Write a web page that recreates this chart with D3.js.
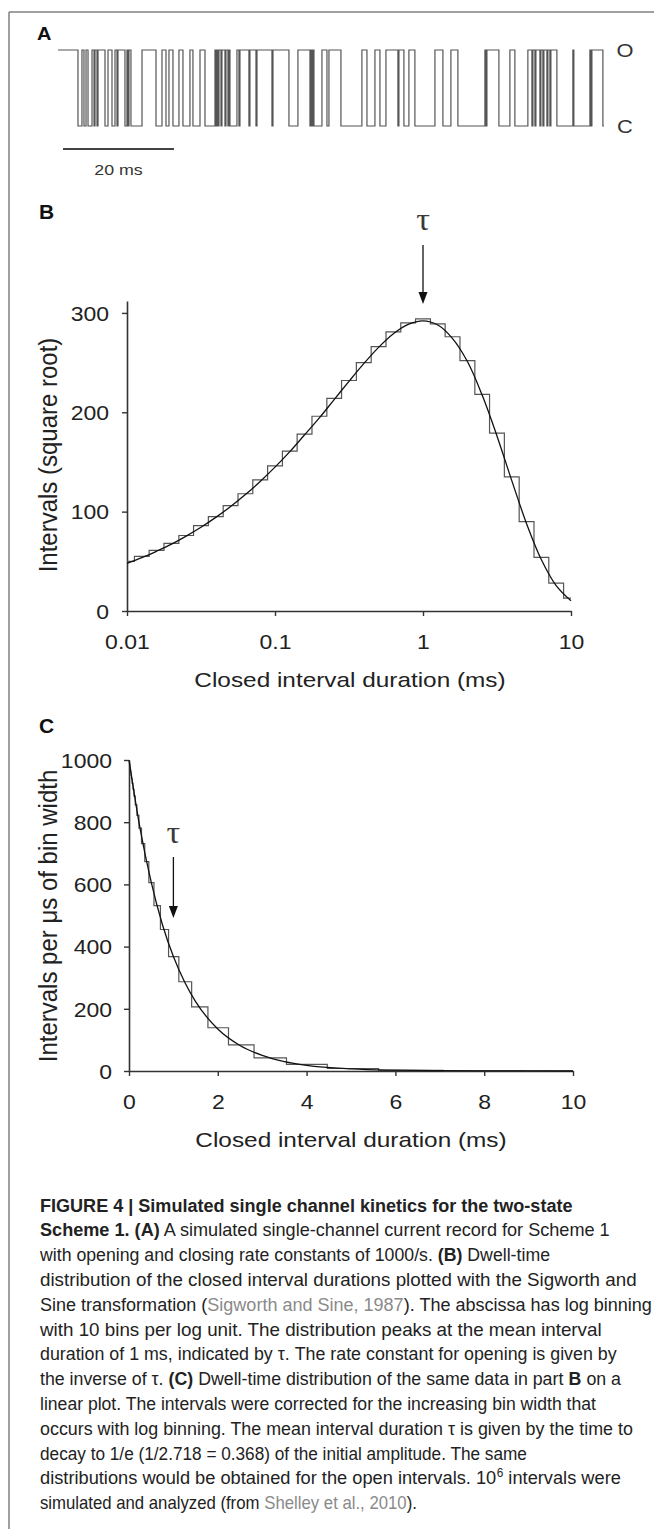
<!DOCTYPE html>
<html><head><meta charset="utf-8">
<script src="https://cdn.jsdelivr.net/npm/d3@7"></script>
<style>
html,body{margin:0;padding:0;background:#fff;}
svg{display:block;}
</style></head>
<body><svg id="fig" width="654" height="1529"></svg>
<script>
// ---------------- DATA ----------------
// Panel A: simulated single-channel record (times in ms)
const traceDuration = 98.4;
const closedStart = [3.60,4.68,5.41,6.49,7.03,8.47,9.73,10.63,12.07,12.61,13.15,17.66,19.46,20.72,22.52,24.32,26.49,28.47,28.83,29.37,30.09,30.63,30.99,32.61,34.41,35.68,38.56,41.62,45.41,45.77,46.13,48.47,50.99,55.68,58.02,61.26,62.34,64.32,69.37,72.07,77.12,79.46,82.34,85.41,85.95,86.85,87.39,88.11,88.65,89.91,92.97,96.04,98.20];
const closedEnd   = [4.32,5.05,6.13,6.67,7.21,9.01,10.27,10.81,12.43,12.79,15.14,18.74,20.00,21.80,23.78,25.59,28.29,28.65,29.01,29.55,30.27,30.81,32.25,32.79,34.59,35.86,38.74,43.24,45.59,45.95,47.57,48.83,54.77,57.12,59.10,61.44,63.24,67.93,70.81,76.94,77.30,81.44,84.68,85.59,86.13,87.03,87.57,88.29,88.83,92.79,95.86,96.22,98.40];
const stateLabels = ["O", "C"];
const scaleBarMs = 20;
const scaleBarLabel = "20 ms";

// Bin centres (ms), 10 bins per log unit
const binCenters = [0.01,0.0126,0.0158,0.02,0.0251,0.0316,0.0398,0.0501,0.0631,0.0794,0.1,0.126,0.158,0.2,0.251,0.316,0.398,0.501,0.631,0.794,1,1.26,1.58,2,2.51,3.16,3.98,5.01,6.31,7.94,10];

// Panel B: square-root intervals (Sigworth & Sine)
const histB = [50,55,61,68,76,86,95,106,118,132,146,161,178,196,214,232,250,266,281,290,294,289,276,252,218,179,135,90,54,28,13];
const fitB  = [48,53.7,60.1,67.3,75.4,84.3,94.2,105.1,117.2,130.4,144.8,160.4,177.1,194.6,212.8,231.1,248.9,265.3,279,288.4,292,287.8,274.4,250.8,217.3,176.2,131.2,87.9,51.6,25.6,10.3];
const ticksBX = [0.01, 0.1, 1, 10];
const tickLabelsBX = ["0.01", "0.1", "1", "10"];
const ticksBY = [0, 100, 200, 300];
const tickLabelsBY = ["0", "100", "200", "300"];
const tauB = 1;

// Panel C: intervals per microsecond of bin width (linear)
const histC = [990,988,985,981,976,970,962,952,940,925,906,884,856,822,781,731,673,606,532,455,368,287,206,139,84,42,21,8,2,0.4,0.05];
const fitCx = [0,0.25,0.5,0.75,1,1.25,1.5,2,2.5,3,3.5,4,5,6,7,8,9,10];
const fitCy = [1000,779,607,472,368,287,223,135,82,50,30,18,6.7,2.5,0.9,0.3,0.1,0.05];
const ticksCX = [0, 2, 4, 6, 8, 10];
const tickLabelsCX = ["0", "2", "4", "6", "8", "10"];
const ticksCY = [0, 200, 400, 600, 800, 1000];
const tickLabelsCY = ["0", "200", "400", "600", "800", "1000"];
const tauC = 1;

const panelLabels = ["A", "B", "C"];
const xTitle = "Closed interval duration (ms)";
const yTitleB = "Intervals (square root)";
const yTitleC = "Intervals per \u03bcs of bin width";
const tauSymbol = "\u03c4";

const captionLines = [
  [{t:"FIGURE 4 | Simulated single channel kinetics for the two-state", s:"b"}],
  [{t:"Scheme 1. (A)", s:"b"},{t:" A simulated single-channel current record for Scheme 1"}],
  [{t:"with opening and closing rate constants of 1000/s. "},{t:"(B)", s:"b"},{t:" Dwell-time"}],
  [{t:"distribution of the closed interval durations plotted with the Sigworth and"}],
  [{t:"Sine transformation ("},{t:"Sigworth and Sine, 1987", s:"l"},{t:"). The abscissa has log binning"}],
  [{t:"with 10 bins per log unit. The distribution peaks at the mean interval"}],
  [{t:"duration of 1 ms, indicated by \u03c4. The rate constant for opening is given by"}],
  [{t:"the inverse of \u03c4. "},{t:"(C)", s:"b"},{t:" Dwell-time distribution of the same data in part "},{t:"B", s:"b"},{t:" on a"}],
  [{t:"linear plot. The intervals were corrected for the increasing bin width that"}],
  [{t:"occurs with log binning. The mean interval duration \u03c4 is given by the time to"}],
  [{t:"decay to 1/e (1/2.718 = 0.368) of the initial amplitude. The same"}],
  [{t:"distributions would be obtained for the open intervals. 10"},{t:"6", s:"sup"},{t:" intervals were"}],
  [{t:"simulated and analyzed (from "},{t:"Shelley et al., 2010", s:"l"},{t:")."}]
];
const captionWidths = [533,570,510,597,612,562,577,581,556,593,487,581,377];

// ---------------- DRAWING ----------------
const FONT = "Arial, 'Liberation Sans', Helvetica, sans-serif";
const SERIF = "'Liberation Serif', 'Times New Roman', serif";
const SX = 1.15; // horizontal stretch of the figure art
const svg = d3.select("#fig");

function txt(parent, x, y, s, o = {}) {
  return parent.append("text")
    .attr("transform", `translate(${x},${y})` + (o.rot ? ` rotate(${o.rot})` : "") + ` scale(${o.sx || 1},${o.sy || 1})`)
    .attr("font-family", o.family || FONT)
    .attr("font-size", o.size || 16)
    .attr("font-weight", o.weight || "normal")
    .attr("text-anchor", o.anchor || "start")
    .attr("fill", o.fill || "#222")
    .text(s);
}

// frame
svg.append("line").attr("x1", 9).attr("x2", 654).attr("y1", 12).attr("y2", 12).attr("stroke", "#808080").attr("stroke-width", 1.5);
svg.append("line").attr("x1", 9).attr("x2", 9).attr("y1", 12).attr("y2", 1529).attr("stroke", "#808080").attr("stroke-width", 1.5);

// ---- Panel A ----
const xA = d3.scaleLinear().domain([0, traceDuration]).range([58, 604]);
const yA = d3.scalePoint().domain(stateLabels).range([50, 126]);
const tracePts = [{t: 0, s: "O"}];
closedStart.forEach((s, i) => {
  tracePts.push({t: s, s: "C"});
  tracePts.push({t: closedEnd[i], s: closedEnd[i] >= traceDuration ? "C" : "O"});
});
svg.append("path")
  .attr("d", d3.line().x(d => xA(d.t)).y(d => yA(d.s)).curve(d3.curveStepAfter)(tracePts))
  .attr("fill", "none").attr("stroke", "#555").attr("stroke-width", 1.2);
txt(svg, 37, 40, panelLabels[0], {size: 19, weight: "bold", sx: 1.05, fill: "#111"});
stateLabels.forEach(s => txt(svg, 625, yA(s) + 7, s, {size: 19, anchor: "middle", sx: SX, fill: "#333"}));
svg.append("line").attr("x1", xA(0) + 5).attr("x2", xA(scaleBarMs) + 5).attr("y1", 149).attr("y2", 149)
  .attr("stroke", "#444").attr("stroke-width", 2);
txt(svg, (xA(0) + xA(scaleBarMs)) / 2 + 5, 175, scaleBarLabel, {size: 15.5, anchor: "middle", sx: SX, fill: "#333"});

// axis helper
function styleAxes(gx, gy, yLabelDx) {
  [gx, gy].forEach(g => {
    g.attr("font-family", FONT).attr("font-size", 20).style("color", "#222");
    g.select(".domain").attr("stroke", "#333").attr("stroke-width", 1.6);
    g.selectAll(".tick line").attr("stroke", "#333").attr("stroke-width", 1.4);
  });
  gy.selectAll(".tick text").attr("x", null).attr("dy", "0.36em")
    .attr("transform", `translate(${yLabelDx},0) scale(${SX},1)`);
  gx.selectAll(".tick text").attr("y", null).attr("dy", null)
    .attr("transform", `translate(0,38) scale(${SX},1)`);
}
function stepPath(xs, ys, xScale, yScale, leftEdge, rightEdge) {
  const pts = [];
  xs.forEach((c, i) => {
    const l = i === 0 ? leftEdge : Math.sqrt(xs[i - 1] * c);
    const r = i === xs.length - 1 ? rightEdge : Math.min(rightEdge, Math.sqrt(c * xs[i + 1]));
    pts.push([xScale(l), yScale(ys[i])], [xScale(r), yScale(ys[i])]);
  });
  return d3.line()(pts);
}
function arrow(g, x, y0, y1) {
  g.append("line").attr("x1", x).attr("x2", x).attr("y1", y0).attr("y2", y1 - 8).attr("stroke", "#111").attr("stroke-width", 1.3);
  g.append("path").attr("d", `M${x - 4.5},${y1 - 12}L${x + 4.5},${y1 - 12}L${x},${y1}Z`).attr("fill", "#111");
}

// ---- Panel B ----
const xB = d3.scaleLog().domain([0.01, 10]).range([127, 571]);
const yB = d3.scaleLinear().domain([0, 312]).range([611, 301]);
const gB = svg.append("g");
const gBx = gB.append("g").attr("transform", `translate(0,${yB(0)})`)
  .call(d3.axisBottom(xB).tickValues(ticksBX).tickSize(5).tickSizeOuter(0).tickFormat((d, i) => tickLabelsBX[i]));
const gBy = gB.append("g").attr("transform", `translate(${xB(0.01)},0)`)
  .call(d3.axisLeft(yB).tickValues(ticksBY).tickSize(5).tickSizeOuter(0).tickFormat((d, i) => tickLabelsBY[i]));
styleAxes(gBx, gBy, -18);
gB.append("path").attr("d", stepPath(binCenters, histB, xB, yB, 0.01, 10))
  .attr("fill", "none").attr("stroke", "#555").attr("stroke-width", 1.2);
gB.append("path").attr("d", d3.line().x(d => xB(d[0])).y(d => yB(d[1])).curve(d3.curveCatmullRom)(binCenters.map((c, i) => [c, fitB[i]])))
  .attr("fill", "none").attr("stroke", "#111").attr("stroke-width", 1.3);
txt(gB, 39, 219, panelLabels[1], {size: 20, weight: "bold", sx: 1.05, fill: "#111"});
txt(gB, xB(tauB), 230, tauSymbol, {size: 31, anchor: "middle", family: SERIF, sx: 1.1, fill: "#3a3a3a"});
arrow(gB, xB(tauB), 245, yB(d3.max(histB)) - 15);
txt(gB, 350, 687, xTitle, {size: 21, anchor: "middle", sx: 1.16});
txt(gB, 57, 455, yTitleB, {size: 24, anchor: "middle", rot: -90, sy: 1.05});

// ---- Panel C ----
const xC = d3.scaleLinear().domain([0, 10]).range([129, 573]);
const yC = d3.scaleLinear().domain([0, 1000]).range([1071, 760]);
const gC = svg.append("g");
const gCx = gC.append("g").attr("transform", `translate(0,${yC(0)})`)
  .call(d3.axisBottom(xC).tickValues(ticksCX).tickSize(5).tickSizeOuter(0).tickFormat((d, i) => tickLabelsCX[i]));
const gCy = gC.append("g").attr("transform", `translate(${xC(0)},0)`)
  .call(d3.axisLeft(yC).tickValues(ticksCY).tickSize(5).tickSizeOuter(0).tickFormat((d, i) => tickLabelsCY[i]));
styleAxes(gCx, gCy, -17);
gC.append("path").attr("d", stepPath(binCenters, histC, xC, yC, 0, 10))
  .attr("fill", "none").attr("stroke", "#555").attr("stroke-width", 1.2);
gC.append("path").attr("d", d3.line().x(d => xC(d[0])).y(d => yC(d[1])).curve(d3.curveMonotoneX)(fitCx.map((c, i) => [c, fitCy[i]])))
  .attr("fill", "none").attr("stroke", "#111").attr("stroke-width", 1.3);
txt(gC, 39, 733, panelLabels[2], {size: 20, weight: "bold", sx: 1.05, fill: "#111"});
txt(gC, xC(tauC), 843, tauSymbol, {size: 31, anchor: "middle", family: SERIF, sx: 1.1, fill: "#3a3a3a"});
arrow(gC, xC(tauC), 857, 918);
txt(gC, 351, 1147, xTitle, {size: 21, anchor: "middle", sx: 1.16});
txt(gC, 57, 916, yTitleC, {size: 24, anchor: "middle", rot: -90, sy: 1.05});

// ---- Caption: each line is a group scaled to the measured line width ----
const CAPFONT = "Arial, 'Liberation Sans', sans-serif";
const CAPSIZE = 18.5;
captionLines.forEach((segs, li) => {
  const g = svg.append("g");
  let x = 0;
  segs.forEach(sg => {
    const isSup = sg.s === "sup";
    const t = g.append("text")
      .attr("x", x).attr("y", isSup ? -7 : 0)
      .attr("font-family", CAPFONT)
      .attr("font-size", isSup ? 12 : CAPSIZE)
      .attr("font-weight", sg.s === "b" ? "bold" : "normal")
      .attr("fill", sg.s === "l" ? "#8a8a8a" : "#222")
      .style("white-space", "pre")
      .attr("xml:space", "preserve")
      .text(sg.t);
    x += t.node().getComputedTextLength();
  });
  const f = captionWidths[li] / x;
  g.attr("transform", `translate(40,${1211.5 + li * 24.8}) scale(${f},1)`);
});
</script>
</body></html>
